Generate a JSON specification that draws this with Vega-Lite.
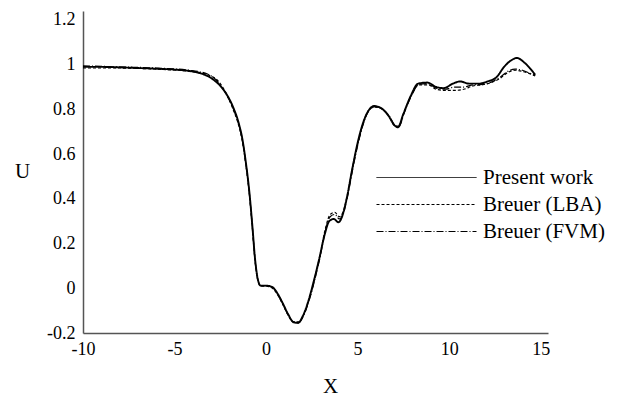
{
  "$schema": "https://vega.github.io/schema/vega-lite/v6.json",
  "width": 465,
  "height": 322,
  "autosize": "none",
  "padding": {"left": 83, "top": 11, "right": 70, "bottom": 63},
  "background": "white",
  "config": {
    "view": {"stroke": null},
    "font": "Liberation Serif"
  },
  "datasets": {
    "pw": [
      {"x": -10, "u": 0.99}, {"x": -9, "u": 0.99}, {"x": -8, "u": 0.988}, {"x": -7, "u": 0.985},
      {"x": -6, "u": 0.982}, {"x": -5, "u": 0.978}, {"x": -4.2, "u": 0.972}, {"x": -3.6, "u": 0.962},
      {"x": -3.0, "u": 0.94}, {"x": -2.5, "u": 0.905}, {"x": -2.1, "u": 0.86}, {"x": -1.8, "u": 0.81},
      {"x": -1.5, "u": 0.74}, {"x": -1.3, "u": 0.67}, {"x": -1.1, "u": 0.56}, {"x": -0.9, "u": 0.42},
      {"x": -0.75, "u": 0.28}, {"x": -0.6, "u": 0.13}, {"x": -0.45, "u": 0.04}, {"x": -0.3, "u": 0.012},
      {"x": 0.0, "u": 0.012}, {"x": 0.35, "u": 0.005}, {"x": 0.6, "u": -0.02}, {"x": 0.9, "u": -0.065},
      {"x": 1.2, "u": -0.115}, {"x": 1.5, "u": -0.152}, {"x": 1.75, "u": -0.155}, {"x": 2.0, "u": -0.125},
      {"x": 2.3, "u": -0.06}, {"x": 2.6, "u": 0.03}, {"x": 2.9, "u": 0.13}, {"x": 3.2, "u": 0.24},
      {"x": 3.45, "u": 0.3}, {"x": 3.7, "u": 0.31}, {"x": 3.95, "u": 0.295}, {"x": 4.15, "u": 0.32},
      {"x": 4.4, "u": 0.4}, {"x": 4.7, "u": 0.53}, {"x": 5.0, "u": 0.65}, {"x": 5.3, "u": 0.74},
      {"x": 5.6, "u": 0.795}, {"x": 5.9, "u": 0.815}, {"x": 6.3, "u": 0.805}, {"x": 6.7, "u": 0.77},
      {"x": 7.0, "u": 0.73}, {"x": 7.2, "u": 0.72}, {"x": 7.5, "u": 0.78}, {"x": 7.9, "u": 0.86},
      {"x": 8.3, "u": 0.915}, {"x": 8.8, "u": 0.92}, {"x": 9.3, "u": 0.9}, {"x": 9.7, "u": 0.895},
      {"x": 10.2, "u": 0.915}, {"x": 10.6, "u": 0.925}, {"x": 11.1, "u": 0.915}, {"x": 11.6, "u": 0.915},
      {"x": 12.1, "u": 0.925}, {"x": 12.6, "u": 0.945}, {"x": 13.0, "u": 0.99}, {"x": 13.4, "u": 1.02},
      {"x": 13.7, "u": 1.03}, {"x": 14.1, "u": 1.01}, {"x": 14.4, "u": 0.985}, {"x": 14.7, "u": 0.955}
    ],
    "lba": [
      {"x": -10, "u": 0.985}, {"x": -8, "u": 0.985}, {"x": -6, "u": 0.98}, {"x": -4.2, "u": 0.97},
      {"x": -3.2, "u": 0.955}, {"x": -2.6, "u": 0.925}, {"x": -2.2, "u": 0.875}, {"x": -1.8, "u": 0.8},
      {"x": -1.5, "u": 0.73}, {"x": -1.3, "u": 0.66}, {"x": -1.1, "u": 0.55}, {"x": -0.9, "u": 0.41},
      {"x": -0.75, "u": 0.27}, {"x": -0.6, "u": 0.12}, {"x": -0.45, "u": 0.035}, {"x": -0.3, "u": 0.01},
      {"x": 0.0, "u": 0.01}, {"x": 0.35, "u": 0.0}, {"x": 0.6, "u": -0.025}, {"x": 0.9, "u": -0.07},
      {"x": 1.2, "u": -0.12}, {"x": 1.5, "u": -0.15}, {"x": 1.8, "u": -0.15}, {"x": 2.05, "u": -0.12},
      {"x": 2.35, "u": -0.05}, {"x": 2.65, "u": 0.04}, {"x": 2.95, "u": 0.15}, {"x": 3.25, "u": 0.27},
      {"x": 3.5, "u": 0.33}, {"x": 3.75, "u": 0.34}, {"x": 4.0, "u": 0.32}, {"x": 4.2, "u": 0.34},
      {"x": 4.45, "u": 0.42}, {"x": 4.75, "u": 0.55}, {"x": 5.05, "u": 0.66}, {"x": 5.35, "u": 0.75},
      {"x": 5.65, "u": 0.8}, {"x": 5.95, "u": 0.81}, {"x": 6.35, "u": 0.8}, {"x": 6.75, "u": 0.765},
      {"x": 7.05, "u": 0.725}, {"x": 7.25, "u": 0.725}, {"x": 7.55, "u": 0.79}, {"x": 7.95, "u": 0.865},
      {"x": 8.35, "u": 0.91}, {"x": 8.85, "u": 0.91}, {"x": 9.3, "u": 0.89}, {"x": 9.8, "u": 0.885},
      {"x": 10.3, "u": 0.885}, {"x": 10.8, "u": 0.89}, {"x": 11.3, "u": 0.905}, {"x": 11.8, "u": 0.91},
      {"x": 12.3, "u": 0.92}, {"x": 12.8, "u": 0.94}, {"x": 13.2, "u": 0.965}, {"x": 13.6, "u": 0.975},
      {"x": 14.0, "u": 0.97}, {"x": 14.4, "u": 0.96}, {"x": 14.7, "u": 0.95}
    ],
    "fvm": [
      {"x": -10, "u": 0.995}, {"x": -8, "u": 0.99}, {"x": -6, "u": 0.985}, {"x": -4.2, "u": 0.975},
      {"x": -3.2, "u": 0.958}, {"x": -2.6, "u": 0.92}, {"x": -2.2, "u": 0.87}, {"x": -1.8, "u": 0.805},
      {"x": -1.5, "u": 0.735}, {"x": -1.3, "u": 0.665}, {"x": -1.1, "u": 0.555}, {"x": -0.9, "u": 0.415},
      {"x": -0.75, "u": 0.275}, {"x": -0.6, "u": 0.125}, {"x": -0.45, "u": 0.038}, {"x": -0.3, "u": 0.012},
      {"x": 0.0, "u": 0.012}, {"x": 0.35, "u": 0.004}, {"x": 0.6, "u": -0.022}, {"x": 0.9, "u": -0.068},
      {"x": 1.2, "u": -0.118}, {"x": 1.5, "u": -0.15}, {"x": 1.8, "u": -0.152}, {"x": 2.05, "u": -0.122},
      {"x": 2.35, "u": -0.055}, {"x": 2.65, "u": 0.035}, {"x": 2.95, "u": 0.14}, {"x": 3.25, "u": 0.26},
      {"x": 3.5, "u": 0.32}, {"x": 3.75, "u": 0.33}, {"x": 4.0, "u": 0.31}, {"x": 4.2, "u": 0.33},
      {"x": 4.45, "u": 0.41}, {"x": 4.75, "u": 0.54}, {"x": 5.05, "u": 0.655}, {"x": 5.35, "u": 0.745},
      {"x": 5.65, "u": 0.798}, {"x": 5.95, "u": 0.812}, {"x": 6.35, "u": 0.802}, {"x": 6.75, "u": 0.768},
      {"x": 7.05, "u": 0.728}, {"x": 7.25, "u": 0.722}, {"x": 7.55, "u": 0.785}, {"x": 7.95, "u": 0.862},
      {"x": 8.35, "u": 0.912}, {"x": 8.85, "u": 0.915}, {"x": 9.3, "u": 0.895}, {"x": 9.8, "u": 0.89},
      {"x": 10.3, "u": 0.9}, {"x": 10.8, "u": 0.9}, {"x": 11.3, "u": 0.91}, {"x": 11.8, "u": 0.912},
      {"x": 12.3, "u": 0.922}, {"x": 12.8, "u": 0.945}, {"x": 13.2, "u": 0.97}, {"x": 13.6, "u": 0.98},
      {"x": 14.0, "u": 0.975}, {"x": 14.4, "u": 0.962}, {"x": 14.7, "u": 0.952}
    ]
  },
  "layer": [
    {
      "data": {"name": "lba"},
      "transform": [{"calculate": "'Breuer (LBA)'", "as": "s"}],
      "mark": {"type": "line", "interpolate": "monotone", "strokeWidth": 1.2, "color": "black"},
      "encoding": {
        "x": {"field": "x", "type": "quantitative"},
        "y": {"field": "u", "type": "quantitative"},
        "strokeDash": {"field": "s", "type": "nominal"}
      }
    },
    {
      "data": {"name": "fvm"},
      "transform": [{"calculate": "'Breuer (FVM)'", "as": "s"}],
      "mark": {"type": "line", "interpolate": "monotone", "strokeWidth": 1.2, "color": "black"},
      "encoding": {
        "x": {"field": "x", "type": "quantitative"},
        "y": {"field": "u", "type": "quantitative"},
        "strokeDash": {"field": "s", "type": "nominal"}
      }
    },
    {
      "data": {"name": "pw"},
      "transform": [{"calculate": "'Present work'", "as": "s"}],
      "mark": {"type": "line", "interpolate": "monotone", "strokeWidth": 1.9, "color": "black"},
      "encoding": {
        "x": {
          "field": "x", "type": "quantitative",
          "scale": {"domain": [-10, 15.4], "nice": false, "zero": false},
          "axis": {
            "values": [-10, -5, 0, 5, 10, 15], "ticks": false, "grid": false,
            "domainColor": "#555", "domainWidth": 1.5, "labelExpr": "datum.value + ''",
            "labelFont": "Liberation Serif", "labelFontSize": 18, "labelColor": "black",
            "labelPadding": 7, "labelFlush": false,
            "title": "X", "titleFont": "Liberation Serif", "titleFontSize": 21,
            "titleFontWeight": "normal", "titleColor": "black",
            "titleX": 247, "titleY": 53, "titleBaseline": "middle", "titleAlign": "center"
          }
        },
        "y": {
          "field": "u", "type": "quantitative",
          "scale": {"domain": [-0.2, 1.24], "nice": false, "zero": false},
          "axis": {
            "values": [-0.2, 0, 0.2, 0.4, 0.6, 0.8, 1, 1.2], "ticks": false, "grid": false,
            "domainColor": "#555", "domainWidth": 1.5, "labelExpr": "datum.value + ''",
            "labelFont": "Liberation Serif", "labelFontSize": 18, "labelColor": "black",
            "labelPadding": 8, "labelFlush": false,
            "title": "U", "titleFont": "Liberation Serif", "titleFontSize": 21,
            "titleFontWeight": "normal", "titleColor": "black", "titleAngle": 0,
            "titleX": -61, "titleY": 160, "titleBaseline": "middle", "titleAlign": "center"
          }
        },
        "strokeDash": {
          "field": "s", "type": "nominal",
          "scale": {
            "domain": ["Present work", "Breuer (LBA)", "Breuer (FVM)"],
            "range": [[1, 0], [3, 2], [7, 2, 1, 2]]
          },
          "legend": {
            "title": null, "orient": "none", "legendX": 293, "legendY": 156,
            "symbolType": "M-1,0H9", "symbolSize": 400, "symbolStrokeWidth": 1,
            "symbolStrokeColor": "black",
            "labelFont": "Liberation Serif", "labelFontSize": 21, "labelColor": "black",
            "labelOffset": 86, "rowPadding": 5
          }
        }
      }
    }
  ]
}
